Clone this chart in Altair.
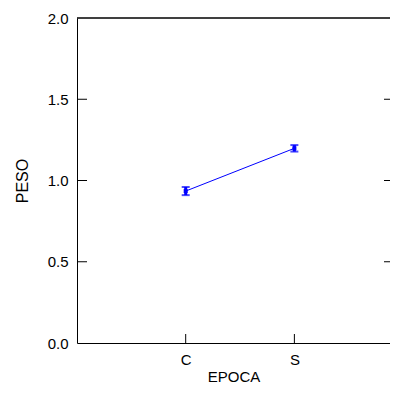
import altair as alt
import pandas as pd

epoca = ["C", "S"]
peso = [0.935, 1.198]
err = [0.025, 0.02]
ytick_vals = [0.5, 1.0, 1.5]

df = pd.DataFrame({"EPOCA": epoca, "PESO": peso,
                   "lo": [p - e for p, e in zip(peso, err)],
                   "hi": [p + e for p, e in zip(peso, err)]})
ticks_df = pd.DataFrame({"t": ytick_vals})

W, H = 313, 325
FONT = "Liberation Sans"

xs = alt.Scale(type="point", domain=epoca, padding=0.94, align=0.532)
ys = alt.Scale(domain=[0, 2])

xax = alt.Axis(title="EPOCA", ticks=False, tickSize=0, labelPadding=9, labelAngle=0,
               domainColor="black", labelColor="black", titleColor="black",
               labelFont=FONT, titleFont=FONT, labelFontSize=15, titleFontSize=15,
               titleFontWeight="normal", titlePadding=2, grid=False)
yax = alt.Axis(title="PESO", ticks=False, tickSize=0, labelPadding=9, values=[0, 0.5, 1, 1.5, 2],
               format=".1f", domainColor="black", labelColor="black", titleColor="black",
               labelFont=FONT, titleFont=FONT, labelFontSize=15, titleFontSize=16,
               titleFontWeight="normal", titlePadding=17, grid=False)

base = alt.Chart(df)
X = alt.X("EPOCA:N", scale=xs, sort=epoca)

line = base.mark_line(color="#0000FF", strokeWidth=1).encode(
    x=alt.X("EPOCA:N", scale=xs, axis=xax, sort=epoca),
    y=alt.Y("PESO:Q", scale=ys, axis=yax),
)
bars = base.mark_rule(color="#0000FF", strokeWidth=3).encode(x=X, y="lo:Q", y2="hi:Q")
cap_lo = base.mark_tick(color="#0000FF", thickness=2, size=8, orient="horizontal").encode(x=X, y="lo:Q")
cap_hi = base.mark_tick(color="#0000FF", thickness=2, size=8, orient="horizontal").encode(x=X, y="hi:Q")
pts = base.mark_square(color="#0000FF", size=16, opacity=1).encode(x=X, y="PESO:Q")

left_ticks = alt.Chart(ticks_df).mark_rule(color="black", strokeWidth=1).encode(
    y=alt.Y("t:Q", scale=ys), x=alt.value(0), x2=alt.value(10))
right_ticks = alt.Chart(ticks_df).mark_rule(color="black", strokeWidth=1).encode(
    y=alt.Y("t:Q", scale=ys), x=alt.value(W - 6), x2=alt.value(W))
bottom_ticks = base.mark_rule(color="black", strokeWidth=1).encode(
    x=X, y=alt.value(H - 9), y2=alt.value(H))
top_line = base.mark_rule(color="black", strokeWidth=1).encode(
    x=alt.value(0), x2=alt.value(W), y=alt.value(0))

chart = alt.layer(line, bars, cap_lo, cap_hi, pts, left_ticks, right_ticks, bottom_ticks, top_line).properties(
    width=W, height=H,
    autosize=alt.AutoSizeParams(type="none"),
    padding={"left": 69, "top": 10, "right": 0, "bottom": 45},
    background="white",
).configure_view(strokeWidth=0)

chart.save("out.html", embed_options={"renderer": "svg", "actions": False})
